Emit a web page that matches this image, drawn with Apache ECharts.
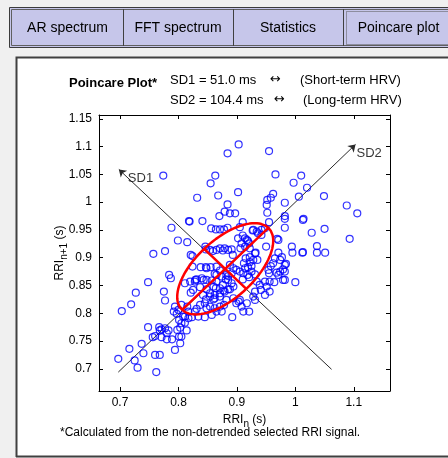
<!DOCTYPE html>
<html>
<head>
<meta charset="utf-8">
<script src="https://cdn.jsdelivr.net/npm/echarts@6/dist/echarts.min.js"></script>
<style>
  html, body { margin: 0; padding: 0; background: #f0f0f0; }
  #main { width: 448px; height: 458px; }
</style>
</head>
<body>
<div id="main"></div>
<script>
var chart = echarts.init(document.getElementById('main'))

// RRI(n), RRI(n+1) pairs in seconds
var poincarePoints = [
  [0.903,1.104],[0.884,1.088],[0.774,1.048],[0.863,1.048],[0.855,1.034],[0.902,1.018],[0.832,1.008],
  [0.868,1.012],[0.884,0.996],[0.870,0.975],[0.879,0.983],[0.888,0.980],[0.897,0.980],[0.910,0.964],
  [0.788,0.954],[0.818,0.966],[0.819,0.965],[0.841,0.966],[0.799,0.931],[0.815,0.928],[0.856,0.953],
  [0.864,0.951],[0.871,0.951],[0.878,0.951],[0.884,0.954],[0.910,0.940],[0.757,0.907],[0.777,0.912],
  [0.824,0.903],[0.846,0.920],[0.859,0.912],
  [0.955,1.092],[0.966,1.050],[1.010,1.048],[0.997,1.035],[1.020,1.026],[0.962,1.015],[0.958,1.008],
  [0.952,1.004],[0.951,0.995],[1.006,1.010],[1.049,1.011],[0.982,0.999],[1.088,0.994],[1.106,0.980],
  [0.952,0.981],[0.982,0.975],[0.982,0.970],[1.013,0.968],[1.014,0.970],[0.955,0.964],[0.982,0.954],
  [0.969,0.934],[1.028,0.945],[1.050,0.952],[1.093,0.934],[0.994,0.920],[0.995,0.909],[1.012,0.909],
  [1.013,0.910],[1.037,0.921],[1.037,0.909],[1.051,0.909],[0.971,0.932],[0.950,0.920],[0.971,0.909],
  [0.977,0.901],[0.984,0.889],[0.965,0.899],[0.962,0.890],[0.958,0.885],[0.979,0.879],[0.974,0.875],
  [0.954,0.878],[0.955,0.872],[0.968,0.873],
  [0.932,0.909],[0.922,0.901],[0.922,0.892],[0.919,0.883],[0.931,0.870],[0.948,0.857],[0.964,0.856],
  [0.982,0.860],[1.000,0.856],[0.941,0.842],[0.928,0.830],[0.903,0.821],[0.908,0.812],[0.911,0.803],
  [0.921,0.803],[0.892,0.793],[0.911,0.872],[0.905,0.875],[0.899,0.878],[0.894,0.881],[0.893,0.905],
  [0.888,0.887],
  [0.784,0.869],[0.787,0.863],[0.748,0.856],[0.727,0.837],[0.775,0.839],[0.777,0.823],[0.719,0.816],
  [0.703,0.804],[0.794,0.812],[0.792,0.803],[0.797,0.799],[0.800,0.806],[0.805,0.815],[0.801,0.788],
  [0.805,0.782],[0.811,0.783],[0.817,0.791],[0.808,0.794],[0.748,0.775],[0.767,0.775],[0.771,0.771],
  [0.768,0.769],[0.777,0.773],[0.783,0.769],[0.780,0.764],[0.798,0.770],[0.803,0.774],[0.814,0.769],
  [0.805,0.758],[0.801,0.758],[0.756,0.757],[0.760,0.759],[0.771,0.757],[0.780,0.753],[0.803,0.746],
  [0.794,0.734],[0.737,0.745],[0.716,0.736],[0.740,0.728],[0.760,0.725],[0.768,0.725],[0.725,0.715],
  [0.697,0.718],[0.730,0.702],[0.762,0.694],[0.789,0.753],
  [0.821,0.905],[0.824,0.884],[0.838,0.883],[0.847,0.883],[0.855,0.883],[0.829,0.860],[0.843,0.860],
  [0.811,0.854],[0.820,0.857],[0.828,0.857],[0.821,0.837],[0.815,0.812],[0.831,0.808],[0.837,0.815],
  [0.845,0.818],[0.848,0.809],[0.854,0.812],[0.862,0.809],[0.871,0.812],[0.878,0.815],[0.860,0.825],
  [0.847,0.825],[0.854,0.836],[0.862,0.833],[0.871,0.836],[0.811,0.794],[0.823,0.793],[0.834,0.794],
  [0.845,0.793],[0.857,0.797],[0.865,0.803],[0.874,0.803],[0.817,0.803],[0.828,0.803],[0.865,0.869],
  [0.874,0.866],[0.881,0.861],[0.885,0.867],[0.891,0.872],[0.864,0.845],[0.876,0.851],[0.885,0.843],
  [0.877,0.841],[0.891,0.854],[0.894,0.848],
  [0.905,0.955],[0.927,0.949],[0.936,0.944],[0.942,0.941],[0.847,0.915],[0.854,0.914],[0.865,0.914],
  [0.871,0.917],[0.876,0.913],[0.879,0.917],[0.885,0.914],[0.891,0.915],[0.902,0.935],[0.908,0.926],
  [0.917,0.932],[0.921,0.926],[0.914,0.920],[0.922,0.917],[0.906,0.917],[0.931,0.908],[0.915,0.899],
  [0.928,0.896],[0.935,0.896],[0.925,0.885],[0.912,0.890],[0.914,0.881],[0.918,0.869],[0.925,0.875],
  [0.921,0.865],[0.910,0.861],[0.848,0.881],[0.865,0.884],[0.871,0.877],[0.862,0.871],[0.831,0.861],
  [0.840,0.863],[0.848,0.860],[0.857,0.859],[0.865,0.857],[0.885,0.860],[0.882,0.869],[0.825,0.842],
  [0.837,0.847],[0.848,0.843],[0.860,0.848],[0.871,0.845],[0.879,0.839],[0.888,0.843],[0.842,0.833],
  [0.854,0.830],[0.862,0.827],[0.871,0.830],[0.882,0.824],[0.894,0.827],[0.905,0.824],[0.899,0.818],
  [0.917,0.818],[0.931,0.824],[0.974,0.896],[0.982,0.887],[0.982,0.875],[0.971,0.869],[0.979,0.860],
  [0.956,0.857],[0.934,0.857],[0.939,0.851],[0.951,0.848],[0.931,0.839],[0.948,0.833],[0.956,0.839],
  [0.928,0.950],[0.934,0.947],[0.942,0.950],[0.948,0.953],[0.914,0.935],[0.919,0.930]
]

// SD1 / SD2 in seconds and the ellipse centre (mean RRI)
var sd1 = 0.0510
var sd2 = 0.1044
var centre = [0.880, 0.880]

// SD axis lines: [start, arrow tip]
var sd1Line = [[1.062, 0.699], [0.698, 1.059]]
var sd2Line = [[0.697, 0.694], [1.103, 1.104]]

var xTicks = [0.7, 0.8, 0.9, 1.0, 1.1]
var yTicks = [0.7, 0.75, 0.8, 0.85, 0.9, 0.95, 1.0, 1.05, 1.1, 1.15]
var xRange = [0.664, 1.162]
var yRange = [0.66, 1.157]

var tabNames = ['AR spectrum', 'FFT spectrum', 'Statistics', 'Poincare plot']

// SD ellipse, rotated 45 degrees
var ellipse = []
for (var i = 0; i <= 96; i++) {
  var t = i / 96 * Math.PI * 2
  var a = sd2 * Math.cos(t) / Math.SQRT2
  var b = sd1 * Math.sin(t) / Math.SQRT2
  ellipse.push([centre[0] + a - b, centre[1] + a + b])
}
var d2 = sd2 / Math.SQRT2, d1 = sd1 / Math.SQRT2
var majorAxis = [[centre[0] - d2, centre[1] - d2], [centre[0] + d2, centre[1] + d2]]
var minorAxis = [[centre[0] - d1, centre[1] + d1], [centre[0] + d1, centre[1] - d1]]

var font = 'Liberation Sans, Arial, sans-serif'
var fmt = function (v) { return String(+v.toFixed(2)) }

var tickStyle = { inside: true, length: 4, lineStyle: { color: '#000', width: 1 } }
var lineStyle = { show: true, onZero: false, lineStyle: { color: '#000', width: 1 } }

// tabs + frame decoration
var tabX = [12, 123, 233, 343, 460]
var graphics = [
  { type: 'rect', z: -10, shape: { x: 16, y: 57, width: 440, height: 400 }, style: { fill: '#ffffff' } },
  { type: 'polyline', z: -5, shape: { points: [[16.5, 457], [16.5, 57.5], [450, 57.5]] }, style: { stroke: '#404040', lineWidth: 2, fill: null } },
  { type: 'line', z: -5, shape: { x1: 16, y1: 456.5, x2: 450, y2: 456.5 }, style: { stroke: '#404040', lineWidth: 2 } },
  { type: 'rect', z: -5, shape: { x: 9.5, y: 7.5, width: 450, height: 40 }, style: { fill: '#c6c6ea', stroke: '#3c3c3c', lineWidth: 1 } },
  { type: 'rect', z: -5, shape: { x: 11.5, y: 9.5, width: 450, height: 36 }, style: { fill: null, stroke: '#606060', lineWidth: 1 } }
]
for (var k = 0; k < tabNames.length; k++) {
  if (k > 0) {
    graphics.push({ type: 'line', z: -4, shape: { x1: tabX[k] + 0.5, y1: 9, x2: tabX[k] + 0.5, y2: 46 }, style: { stroke: '#404040', lineWidth: 1 } })
  }
  graphics.push({
    type: 'text', z: -3,
    style: {
      text: tabNames[k], x: (tabX[k] + Math.min(tabX[k + 1], 448)) / 2 + (k === 3 ? 3 : 0), y: 28,
      align: 'center', verticalAlign: 'middle', font: '14px ' + font, fill: '#000'
    }
  })
}
graphics.push({ type: 'rect', z: -3, shape: { x: 346.5, y: 11.5, width: 110, height: 33 }, style: { fill: null, stroke: '#555', lineWidth: 1, lineDash: [1, 1] } })

// header + footnote text
graphics.push(
  { type: 'text', style: { text: 'Poincare Plot*', x: 69, y: 83, verticalAlign: 'middle', font: 'bold 13px ' + font, fill: '#000' } },
  { type: 'text', style: { text: 'SD1 = 51.0 ms', x: 170, y: 80, verticalAlign: 'middle', font: '13px ' + font, fill: '#000' } },
  { type: 'text', style: { text: '\u2194', x: 270, y: 80, verticalAlign: 'middle', font: '13px DejaVu Sans', fill: '#000' } },
  { type: 'text', style: { text: '(Short-term HRV)', x: 300, y: 80, verticalAlign: 'middle', font: '13px ' + font, fill: '#000' } },
  { type: 'text', style: { text: 'SD2 = 104.4 ms', x: 170, y: 100, verticalAlign: 'middle', font: '13px ' + font, fill: '#000' } },
  { type: 'text', style: { text: '\u2194', x: 274, y: 100, verticalAlign: 'middle', font: '13px DejaVu Sans', fill: '#000' } },
  { type: 'text', style: { text: '(Long-term HRV)', x: 303, y: 100, verticalAlign: 'middle', font: '13px ' + font, fill: '#000' } },
  { type: 'text', style: { text: '*Calculated from the non-detrended selected RRI signal.', x: 60, y: 433, verticalAlign: 'middle', font: '12px ' + font, fill: '#000' } }
)

var nameRich = {
  m: { fontSize: 12, fontFamily: font, color: '#000' },
  s: { fontSize: 10, fontFamily: font, color: '#000', padding: [9, 0, 0, 0] }
}

var option = {
  animation: false,
  backgroundColor: '#f0f0f0',
  graphic: graphics,
  grid: { left: 99, right: 58, top: 115, bottom: 67, show: false },
  xAxis: [
    {
      type: 'value', position: 'bottom', min: xRange[0], max: xRange[1],
      axisLine: lineStyle,
      axisTick: Object.assign({ customValues: xTicks }, tickStyle),
      axisLabel: { customValues: xTicks, formatter: fmt, color: '#000', fontSize: 12, fontFamily: font, margin: 6 },
      splitLine: { show: false },
      name: '{m|RRI}{s|n}{m| (s)}', nameLocation: 'middle', nameGap: 19,
      nameTextStyle: { rich: nameRich }
    },
    {
      type: 'value', position: 'top', min: xRange[0], max: xRange[1],
      axisLine: lineStyle,
      axisTick: Object.assign({ customValues: xTicks }, tickStyle),
      axisLabel: { show: false }, splitLine: { show: false }
    }
  ],
  yAxis: [
    {
      type: 'value', position: 'left', min: yRange[0], max: yRange[1],
      axisLine: lineStyle,
      axisTick: Object.assign({ customValues: yTicks }, tickStyle),
      axisLabel: { customValues: yTicks, formatter: fmt, color: '#000', fontSize: 12, fontFamily: font, margin: 7 },
      splitLine: { show: false },
      name: '{m|RRI}{s|n+1}{m| (s)}', nameLocation: 'middle', nameGap: 30, nameRotate: 90,
      nameMoveOverlap: false,
      nameTextStyle: { rich: nameRich }
    },
    {
      type: 'value', position: 'right', min: yRange[0], max: yRange[1],
      axisLine: lineStyle,
      axisTick: Object.assign({ customValues: yTicks }, tickStyle),
      axisLabel: { show: false }, splitLine: { show: false }
    }
  ],
  series: [
    {
      type: 'lines', coordinateSystem: 'cartesian2d', z: 2,
      symbol: ['none', 'arrow'], symbolSize: 7,
      lineStyle: { color: '#2a2a2a', width: 1, opacity: 1 },
      data: [{ coords: sd1Line }, { coords: sd2Line }]
    },
    {
      type: 'scatter', z: 3, symbol: 'circle', symbolSize: 2,
      itemStyle: { color: 'rgba(0,0,0,0)' },
      label: { show: true, position: 'right', distance: 2, color: '#000', fontSize: 13, fontFamily: font, formatter: function (p) { return p.name } },
      data: [
        { name: 'SD1', value: sd1Line[1], label: { offset: [6, 9] } },
        { name: 'SD2', value: sd2Line[1], label: { offset: [-2, 9] } }
      ]
    },
    {
      type: 'scatter', z: 4, symbol: 'circle', symbolSize: 7,
      itemStyle: { color: 'rgba(0,0,0,0)', borderColor: '#0000ff', borderWidth: 1.2 },
      data: poincarePoints
    },
    {
      type: 'line', z: 5, symbol: 'none', smooth: false,
      lineStyle: { color: '#ff0000', width: 2.5 },
      data: ellipse
    },
    {
      type: 'line', z: 5, symbol: 'none',
      lineStyle: { color: '#ff0000', width: 2.5 },
      data: majorAxis
    },
    {
      type: 'line', z: 5, symbol: 'none',
      lineStyle: { color: '#ff0000', width: 2.5 },
      data: minorAxis
    }
  ]
}
chart.setOption(option)
</script>
</body>
</html>
